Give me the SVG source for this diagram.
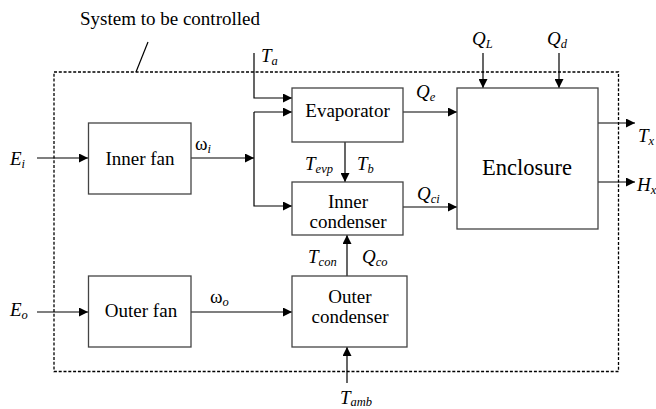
<svg xmlns="http://www.w3.org/2000/svg" width="656" height="409" viewBox="0 0 656 409">
<style>
  text { font-family: "Liberation Serif", "Times New Roman", serif; fill: #000; }
  .box { fill: #fff; stroke: #444; stroke-width: 1.3; }
  .name { font-size: 19px; text-anchor: middle; }
  .big { font-size: 22.5px; text-anchor: middle; }
  .lab { font-size: 19px; font-style: italic; }
  .om { font-size: 19px; }
  .sub { font-size: 12.5px; font-style: italic; }
  .wire { fill: none; stroke: #000; stroke-width: 1.2; }
  .dash { fill: none; stroke: #000; stroke-width: 1.3; stroke-dasharray: 3 1.8; }
</style>
<defs>
  <marker id="ah" viewBox="0 0 10 10" refX="10" refY="5" markerWidth="10" markerHeight="9" markerUnits="userSpaceOnUse" orient="auto">
    <path d="M0,0 L10,5 L0,10 Z" fill="#000"/>
  </marker>
</defs>
<rect width="656" height="409" fill="#fff"/>

<g id="system-boundary">
  <rect class="dash" x="54" y="72" width="564.5" height="299.5"/>
  <path class="wire" d="M148,42 L136,72"/>
  <text x="80" y="25" style="font-size:19px">System to be controlled</text>
</g>

<g id="connectors">
  <path class="wire" d="M37,158 H88" marker-end="url(#ah)"/>
  <path class="wire" d="M191,158 H254" marker-end="url(#ah)"/>
  <path class="wire" d="M254,53 V98 H292" marker-end="url(#ah)"/>
  <path class="wire" d="M254,112 H292" marker-end="url(#ah)"/>
  <path class="wire" d="M254,112 V206 H292" marker-end="url(#ah)"/>
  <path class="wire" d="M345,142 V182" marker-end="url(#ah)"/>
  <path class="wire" d="M403,112 H457" marker-end="url(#ah)"/>
  <path class="wire" d="M403,207 H457" marker-end="url(#ah)"/>
  <path class="wire" d="M483,53 V88" marker-end="url(#ah)"/>
  <path class="wire" d="M559,53 V88" marker-end="url(#ah)"/>
  <path class="wire" d="M598,123 H635" marker-end="url(#ah)"/>
  <path class="wire" d="M598,182 H635" marker-end="url(#ah)"/>
  <path class="wire" d="M37,312 H88" marker-end="url(#ah)"/>
  <path class="wire" d="M191,312 H292" marker-end="url(#ah)"/>
  <path class="wire" d="M347,276 V235" marker-end="url(#ah)"/>
  <path class="wire" d="M347,383 V347" marker-end="url(#ah)"/>
</g>

<g id="inner-fan">
  <rect class="box" x="88.5" y="123" width="102.5" height="71"/>
  <text class="name" x="140" y="164.5">Inner fan</text>
</g>
<g id="outer-fan">
  <rect class="box" x="88.5" y="276" width="102.5" height="71"/>
  <text class="name" x="141" y="316.5">Outer fan</text>
</g>
<g id="evaporator">
  <rect class="box" x="292" y="88" width="111" height="54"/>
  <text class="name" x="347.5" y="116.5">Evaporator</text>
</g>
<g id="inner-condenser">
  <rect class="box" x="292" y="182" width="111" height="53"/>
  <text class="name" x="348" y="208">Inner</text>
  <text class="name" x="348" y="227.5">condenser</text>
</g>
<g id="outer-condenser">
  <rect class="box" x="292" y="276" width="115" height="71"/>
  <text class="name" x="350" y="303">Outer</text>
  <text class="name" x="350" y="323">condenser</text>
</g>
<g id="enclosure">
  <rect class="box" x="457" y="88" width="141" height="141"/>
  <text class="big" x="527" y="175">Enclosure</text>
</g>

<g id="labels">
  <text class="lab" x="10" y="165">E<tspan class="sub" dy="3">i</tspan></text>
  <text class="lab" x="10" y="316">E<tspan class="sub" dy="3">o</tspan></text>
  <text class="om" x="195" y="150">ω<tspan class="sub" dy="3">i</tspan></text>
  <text class="om" x="210" y="303">ω<tspan class="sub" dy="3">o</tspan></text>
  <text class="lab" x="261" y="62">T<tspan class="sub" dy="3">a</tspan></text>
  <text class="lab" x="472" y="45">Q<tspan class="sub" dy="3">L</tspan></text>
  <text class="lab" x="547" y="45">Q<tspan class="sub" dy="3">d</tspan></text>
  <text class="lab" x="416" y="98">Q<tspan class="sub" dy="3">e</tspan></text>
  <text class="lab" x="305" y="170">T<tspan class="sub" dy="3">evp</tspan></text>
  <text class="lab" x="357" y="170">T<tspan class="sub" dy="3">b</tspan></text>
  <text class="lab" x="417" y="200">Q<tspan class="sub" dy="3">ci</tspan></text>
  <text class="lab" x="638" y="142">T<tspan class="sub" dy="3">x</tspan></text>
  <text class="lab" x="637" y="191">H<tspan class="sub" dy="3">x</tspan></text>
  <text class="lab" x="308" y="263">T<tspan class="sub" dy="3">con</tspan></text>
  <text class="lab" x="362" y="263">Q<tspan class="sub" dy="3">co</tspan></text>
  <text class="lab" x="340" y="403.5">T<tspan class="sub" dy="2">amb</tspan></text>
</g>
</svg>
